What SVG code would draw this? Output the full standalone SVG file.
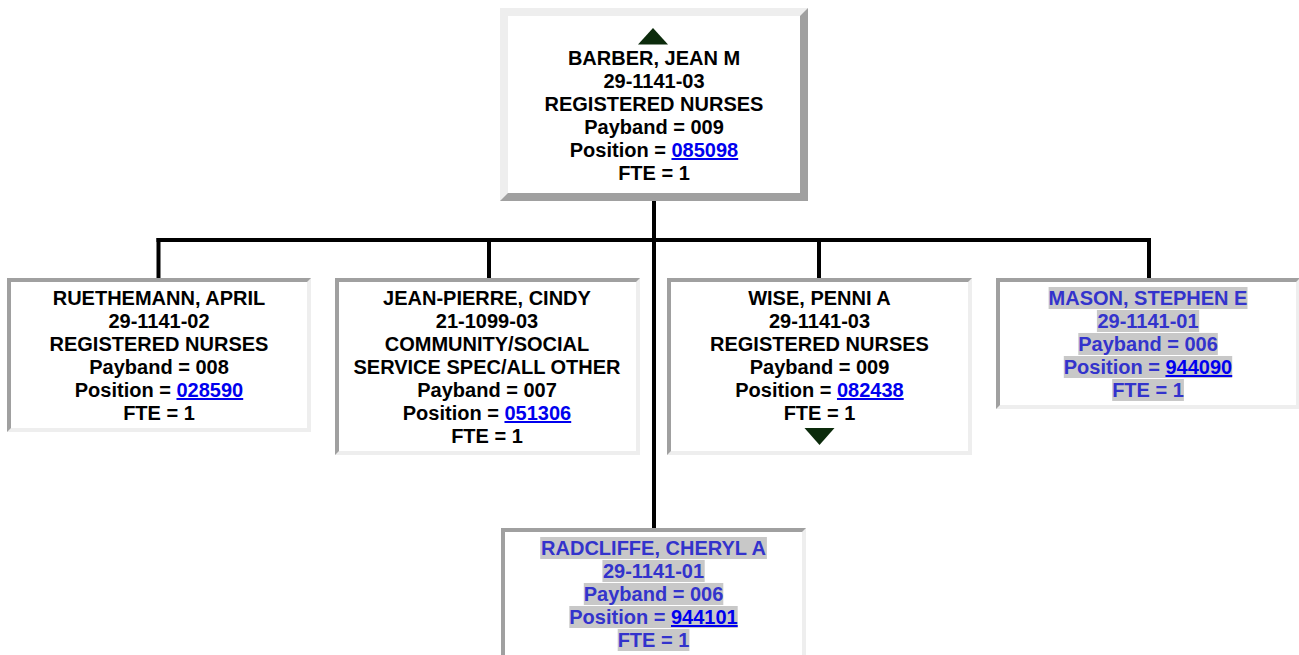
<svg xmlns="http://www.w3.org/2000/svg" width="1299" height="655" viewBox="0 0 1299 655">
<style>
.lt{fill:#eeeeee}
.dk{fill:#a0a0a0}
.in{fill:#ffffff}
.t{font-family:"Liberation Sans",Arial,sans-serif;font-weight:bold;font-size:20px;text-anchor:middle;fill:#000000}
.h{fill:#3333cc}
.lk{fill:#0000ee;text-decoration:underline}
.hl{fill:#c8c8c8}
.tri{fill:#0c2b0c}
.c{stroke:#000000;stroke-width:4;fill:none}
</style>
<rect x="0" y="0" width="1299" height="655" fill="#ffffff"/>
<g id="connectors">
<line class="c" x1="156.5" y1="240" x2="1151" y2="240"/>
<line class="c" x1="158.5" y1="238" x2="158.5" y2="278"/>
<line class="c" x1="489" y1="238" x2="489" y2="278"/>
<line class="c" x1="819" y1="238" x2="819" y2="278"/>
<line class="c" x1="1149" y1="238" x2="1149" y2="278"/>
<line class="c" x1="654" y1="200" x2="654" y2="529"/>
</g>
<g id="node-barber">
<rect class="lt" x="500" y="8" width="308" height="193"/>
<polygon class="dk" points="808,8 808,201 500,201 508,193 800,193 800,16"/>
<rect class="in" x="508" y="16" width="292" height="177"/>
<polygon class="tri" points="638,44.5 653,28 668,44.5"/>
<text class="t" x="654" y="65">BARBER, JEAN M</text>
<text class="t" x="654" y="88">29-1141-03</text>
<text class="t" x="654" y="111">REGISTERED NURSES</text>
<text class="t" x="654" y="134">Payband = 009</text>
<text class="t" x="654" y="157">Position = <tspan class="lk">085098</tspan></text>
<text class="t" x="654" y="180">FTE = 1</text>
</g>
<g id="node-ruethemann">
<rect class="lt" x="7" y="278" width="304" height="154"/>
<polygon class="dk" points="7,432 7,278 311,278 307,282 11,282 11,428"/>
<rect class="in" x="11" y="282" width="296" height="146"/>
<text class="t" x="159" y="305">RUETHEMANN, APRIL</text>
<text class="t" x="159" y="328">29-1141-02</text>
<text class="t" x="159" y="351">REGISTERED NURSES</text>
<text class="t" x="159" y="374">Payband = 008</text>
<text class="t" x="159" y="397">Position = <tspan class="lk">028590</tspan></text>
<text class="t" x="159" y="420">FTE = 1</text>
</g>
<g id="node-jean-pierre">
<rect class="lt" x="335" y="278" width="305" height="177"/>
<polygon class="dk" points="335,455 335,278 640,278 636,282 339,282 339,451"/>
<rect class="in" x="339" y="282" width="297" height="169"/>
<text class="t" x="487" y="305">JEAN-PIERRE, CINDY</text>
<text class="t" x="487" y="328">21-1099-03</text>
<text class="t" x="487" y="351">COMMUNITY/SOCIAL</text>
<text class="t" x="487" y="374">SERVICE SPEC/ALL OTHER</text>
<text class="t" x="487" y="397">Payband = 007</text>
<text class="t" x="487" y="420">Position = <tspan class="lk">051306</tspan></text>
<text class="t" x="487" y="443">FTE = 1</text>
</g>
<g id="node-wise">
<rect class="lt" x="667" y="278" width="305" height="177"/>
<polygon class="dk" points="667,455 667,278 972,278 968,282 671,282 671,451"/>
<rect class="in" x="671" y="282" width="297" height="169"/>
<text class="t" x="819.5" y="305">WISE, PENNI A</text>
<text class="t" x="819.5" y="328">29-1141-03</text>
<text class="t" x="819.5" y="351">REGISTERED NURSES</text>
<text class="t" x="819.5" y="374">Payband = 009</text>
<text class="t" x="819.5" y="397">Position = <tspan class="lk">082438</tspan></text>
<text class="t" x="819.5" y="420">FTE = 1</text>
<polygon class="tri" points="804.5,428 834.5,428 819.5,445"/>
</g>
<g id="node-mason">
<rect class="lt" x="996" y="278" width="304" height="131"/>
<polygon class="dk" points="996,409 996,278 1300,278 1296,282 1000,282 1000,405"/>
<rect class="in" x="1000" y="282" width="296" height="123"/>
<rect class="hl" x="1048.6" y="287" width="198.9" height="22"/>
<rect class="hl" x="1096.9" y="310" width="102.3" height="22"/>
<rect class="hl" x="1078.3" y="333" width="139.5" height="22"/>
<rect class="hl" x="1063.8" y="356" width="168.4" height="22"/>
<rect class="hl" x="1112.2" y="379" width="71.7" height="22"/>
<text class="t h" x="1148" y="305">MASON, STEPHEN E</text>
<text class="t h" x="1148" y="328">29-1141-01</text>
<text class="t h" x="1148" y="351">Payband = 006</text>
<text class="t h" x="1148" y="374">Position = <tspan class="lk">944090</tspan></text>
<text class="t h" x="1148" y="397">FTE = 1</text>
</g>
<g id="node-radcliffe">
<rect class="lt" x="501" y="528" width="305" height="152"/>
<polygon class="dk" points="501,680 501,528 806,528 802,532 505,532 505,676"/>
<rect class="in" x="505" y="532" width="297" height="144"/>
<rect class="hl" x="540.2" y="537" width="226.7" height="22"/>
<rect class="hl" x="602.4" y="560" width="102.3" height="22"/>
<rect class="hl" x="583.8" y="583" width="139.5" height="22"/>
<rect class="hl" x="569.3" y="606" width="168.4" height="22"/>
<rect class="hl" x="617.7" y="629" width="71.7" height="22"/>
<text class="t h" x="653.5" y="555">RADCLIFFE, CHERYL A</text>
<text class="t h" x="653.5" y="578">29-1141-01</text>
<text class="t h" x="653.5" y="601">Payband = 006</text>
<text class="t h" x="653.5" y="624">Position = <tspan class="lk">944101</tspan></text>
<text class="t h" x="653.5" y="647">FTE = 1</text>
</g>
</svg>
